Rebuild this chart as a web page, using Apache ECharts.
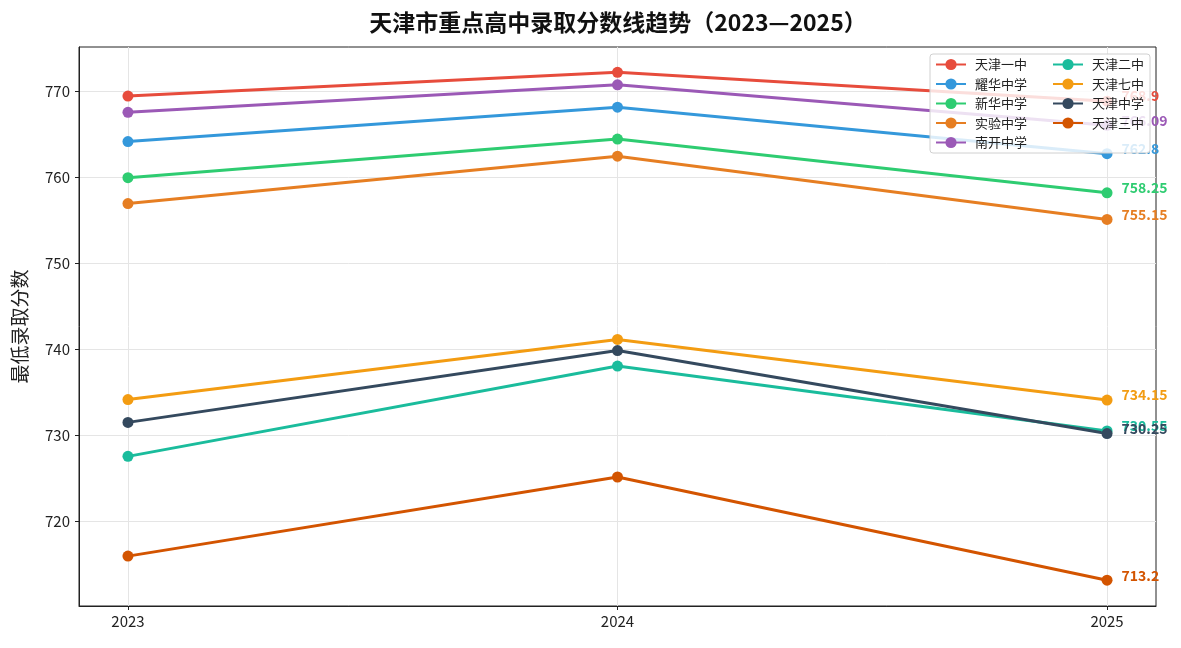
<!DOCTYPE html>
<html>
<head>
<meta charset="utf-8">
<script src="https://cdn.jsdelivr.net/npm/echarts@6/dist/echarts.min.js"></script>
<style>
html, body { margin: 0; padding: 0; background: #fff; }
#main { width: 1181px; height: 648px; }
</style>
</head>
<body>
<div id="main"></div>
<script>
var years = [2023, 2024, 2025];
var yTicks = [720, 730, 740, 750, 760, 770];

var schools = ['天津一中', '耀华中学', '新华中学', '实验中学', '南开中学', '天津二中', '天津七中', '天津中学', '天津三中'];
var colors = ['#e74c3c', '#3498db', '#2ecc71', '#e67e22', '#9b59b6', '#1abc9c', '#f39c12', '#34495e', '#d35400'];

var tj1 = [769.5, 772.25, 768.9];
var yaohua = [764.2, 768.2, 762.8];
var xinhua = [760.0, 764.5, 758.25];
var shiyan = [757.0, 762.5, 755.15];
var nankai = [767.6, 770.8, 766.09];
var tj2 = [727.6, 738.1, 730.55];
var tj7 = [734.2, 741.2, 734.15];
var tjzx = [731.55, 739.9, 730.25];
var tj3 = [716.0, 725.2, 713.2];

var scores = [tj1, yaohua, xinhua, shiyan, nankai, tj2, tj7, tjzx, tj3];

var fontFamily = '"Noto Sans CJK SC", "Noto Sans", sans-serif';

var series = schools.map(function (name, i) {
    return {
        name: name,
        type: 'line',
        data: scores[i].map(function (v, j) { return [years[j], v]; }),
        symbol: 'circle',
        symbolSize: 11,
        clip: false,
        lineStyle: { width: 3, color: colors[i] },
        itemStyle: { color: colors[i] },
        label: {
            show: true,
            position: 'right',
            distance: 9,
            offset: [0, -5],
            color: colors[i],
            fontFamily: fontFamily,
            fontSize: 14,
            fontWeight: 'bold',
            formatter: function (p) {
                return p.dataIndex === years.length - 1 ? String(p.value[1]) : '';
            }
        },
        emphasis: { disabled: true }
    };
});

var legendText = { fontSize: 13, color: '#222', fontFamily: fontFamily, padding: [0, 0, 0, 4] };

var chart = echarts.init(document.getElementById('main'));
chart.setOption({
    animation: false,
    textStyle: { fontFamily: fontFamily },
    title: {
        text: '天津市重点高中录取分数线趋势（2023—2025）',
        left: 613,
        textAlign: 'center',
        top: 6,
        textStyle: { fontSize: 23, fontWeight: 'bold', color: '#111', fontFamily: fontFamily }
    },
    legend: [{
        orient: 'vertical',
        left: 930,
        top: 54,
        z: 10,
        padding: [4, 123, 4, 5],
        itemGap: 6.5,
        itemWidth: 30,
        itemHeight: 14,
        backgroundColor: 'rgba(255,255,255,0.82)',
        borderColor: '#d0d0d0',
        borderWidth: 1,
        borderRadius: 3,
        textStyle: legendText,
        data: schools.slice(0, 5)
    }, {
        orient: 'vertical',
        left: 1047,
        top: 54,
        z: 11,
        padding: [4, 5, 4, 5],
        itemGap: 6.5,
        itemWidth: 30,
        itemHeight: 14,
        textStyle: legendText,
        data: schools.slice(5)
    }],
    grid: {
        left: 79,
        right: 25,
        top: 47,
        bottom: 42,
        show: true,
        borderColor: '#222',
        borderWidth: 1
    },
    xAxis: {
        type: 'value',
        min: 2022.9,
        max: 2025.1,
        axisLine: { show: true, lineStyle: { color: '#222', width: 1 } },
        axisTick: { show: true, length: 4, customValues: years, lineStyle: { color: '#222' } },
        axisLabel: {
            customValues: years,
            fontSize: 15,
            color: '#222',
            margin: 8,
            formatter: function (v) { return String(v); }
        },
        splitLine: { show: true, lineStyle: { color: '#e5e5e5', width: 1 } }
    },
    yAxis: {
        type: 'value',
        min: 710.2,
        max: 775.2,
        name: '最低录取分数',
        nameLocation: 'middle',
        nameGap: 50,
        nameTextStyle: { fontSize: 19, color: '#222', fontFamily: fontFamily },
        axisLine: { show: true, lineStyle: { color: '#222', width: 1 } },
        axisTick: { show: true, length: 4, customValues: yTicks, lineStyle: { color: '#222' } },
        axisLabel: {
            customValues: yTicks,
            fontSize: 15,
            color: '#222',
            margin: 9
        },
        splitLine: { show: true, lineStyle: { color: '#e5e5e5', width: 1 } }
    },
    series: series
});
</script>
</body>
</html>
